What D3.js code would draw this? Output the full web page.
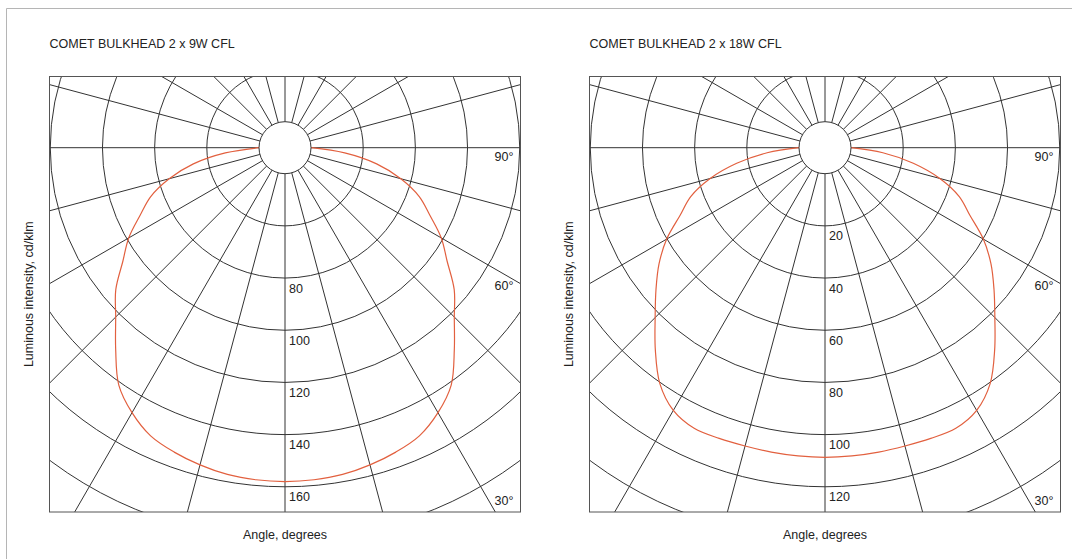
<!DOCTYPE html>
<html>
<head>
<meta charset="utf-8">
<script src="https://cdn.jsdelivr.net/npm/d3@7"></script>
<style>
  body { margin: 0; background: #fff; }
  svg { display: block; font-family: "Liberation Sans", Arial, sans-serif; }
</style>
</head>
<body>
<script>
// angles measured from straight down (nadir), degrees; curve is mirrored left/right
var angles = [0, 5, 10, 15, 20, 25, 30, 35, 40, 45, 50, 55, 60, 65, 70, 75, 80, 85, 90];
var values9W = [158, 157.8, 157.2, 155.9, 154.2, 151.9, 147.3, 141.1, 131, 121.8, 114.7, 105.9, 99.2, 91.3, 84.8, 76, 65.7, 53, 40];
var values18W = [108.7, 108.6, 108.5, 108.4, 108.6, 108.7, 106.3, 100.4, 91.2, 82.1, 74.6, 67.7, 60.1, 51.3, 44.8, 35.6, 24.4, 12.3, 0];

var titles = ["COMET BULKHEAD 2 x 9W CFL", "COMET BULKHEAD 2 x 18W CFL"];
var domains = [[40, 160], [0, 120]];
var tickLabels9W = [80, 100, 120, 140, 160];
var tickLabels18W = [20, 40, 60, 80, 100, 120];
var angleLabels = [90, 60, 30];

var width = 1072, height = 559;
var boxW = 471, boxH = 435.5, boxTop = 76.5;
var boxLefts = [49.5, 589.5];
var holeR = 26, ringStep = 52.18;

var svg = d3.select("body").append("svg")
    .attr("width", width)
    .attr("height", height);

// outer panel border (top + left visible)
svg.append("path")
    .attr("d", "M6.5," + height + "V8.5H" + width)
    .attr("fill", "none")
    .attr("stroke", "#b5b5b5")
    .attr("stroke-width", 1);

var charts = [
  { title: titles[0], domain: domains[0], values: values9W, ticks: tickLabels9W },
  { title: titles[1], domain: domains[1], values: values18W, ticks: tickLabels18W }
];

charts.forEach(function(c, i) {
  var x0 = boxLefts[i];
  var cx = x0 + boxW / 2;
  var cy = boxTop + 71.2;

  var r = d3.scaleLinear()
      .domain(c.domain)
      .range([holeR, holeR + ringStep * (c.domain[1] - c.domain[0]) / 20]);

  var g = svg.append("g");

  g.append("text")
      .attr("x", x0)
      .attr("y", 48)
      .attr("font-size", "12.5px")
      .attr("fill", "#222")
      .text(c.title);

  var clipId = "clip" + i;
  svg.append("clipPath").attr("id", clipId)
    .append("rect")
      .attr("x", x0).attr("y", boxTop)
      .attr("width", boxW).attr("height", boxH);

  var grid = g.append("g").attr("clip-path", "url(#" + clipId + ")");

  // rings every 20 units, continuing past the last label
  var ringVals = d3.range(c.domain[0] + 20, c.domain[1] + 41, 20);
  grid.selectAll("circle.ring")
    .data(ringVals)
    .enter()
    .append("circle")
      .attr("class", "ring")
      .attr("cx", cx).attr("cy", cy)
      .attr("r", function(d) { return r(d); })
      .attr("fill", "none")
      .attr("stroke", "#333")
      .attr("stroke-width", 1);

  // radial lines every 15 degrees
  grid.selectAll("line.spoke")
    .data(d3.range(0, 360, 15))
    .enter()
    .append("line")
      .attr("class", "spoke")
      .attr("x1", function(d) { return cx + holeR * Math.sin(d * Math.PI / 180); })
      .attr("y1", function(d) { return cy + holeR * Math.cos(d * Math.PI / 180); })
      .attr("x2", function(d) { return cx + 700 * Math.sin(d * Math.PI / 180); })
      .attr("y2", function(d) { return cy + 700 * Math.cos(d * Math.PI / 180); })
      .attr("stroke", "#333")
      .attr("stroke-width", 1);

  // mirrored curve, -90..90
  var pts = [];
  for (var k = angles.length - 1; k > 0; k--) pts.push([-angles[k], c.values[k]]);
  for (var k = 0; k < angles.length; k++) pts.push([angles[k], c.values[k]]);

  var line = d3.lineRadial()
      .angle(function(d) { return Math.PI - d[0] * Math.PI / 180; })
      .radius(function(d) { return r(d[1]); })
      .curve(d3.curveCatmullRom);

  grid.append("path")
      .datum(pts)
      .attr("transform", "translate(" + cx + "," + cy + ")")
      .attr("d", line)
      .attr("fill", "none")
      .attr("stroke", "#e2603f")
      .attr("stroke-width", 1.2);

  g.append("circle")
      .attr("cx", cx).attr("cy", cy)
      .attr("r", holeR)
      .attr("fill", "#fff")
      .attr("stroke", "#333")
      .attr("stroke-width", 1);

  g.append("rect")
      .attr("x", x0).attr("y", boxTop)
      .attr("width", boxW).attr("height", boxH)
      .attr("fill", "none")
      .attr("stroke", "#555")
      .attr("stroke-width", 1);

  g.selectAll("text.tick")
    .data(c.ticks)
    .enter()
    .append("text")
      .attr("class", "tick")
      .attr("x", cx + 4)
      .attr("y", function(d) { return cy + r(d) + 14.5; })
      .attr("font-size", "12.5px")
      .attr("fill", "#222")
      .text(function(d) { return d; });

  g.selectAll("text.ang")
    .data(angleLabels)
    .enter()
    .append("text")
      .attr("class", "ang")
      .attr("x", x0 + boxW - 7)
      .attr("y", function(d) {
        if (d === 90) return cy + 13;
        if (d === 60) return cy + (boxW / 2) / Math.tan(60 * Math.PI / 180) + 6.5;
        return boxTop + boxH - 7;
      })
      .attr("text-anchor", "end")
      .attr("font-size", "12.5px")
      .attr("fill", "#222")
      .text(function(d) { return d + "\u00b0"; });

  g.append("text")
      .attr("x", cx)
      .attr("y", 539)
      .attr("text-anchor", "middle")
      .attr("font-size", "12.5px")
      .attr("fill", "#222")
      .text("Angle, degrees");

  g.append("text")
      .attr("transform", "translate(" + (x0 - 17) + "," + (boxTop + boxH / 2) + ") rotate(-90)")
      .attr("text-anchor", "middle")
      .attr("font-size", "12.5px")
      .attr("fill", "#222")
      .text("Luminous intensity, cd/klm");
});
</script>
</body>
</html>
